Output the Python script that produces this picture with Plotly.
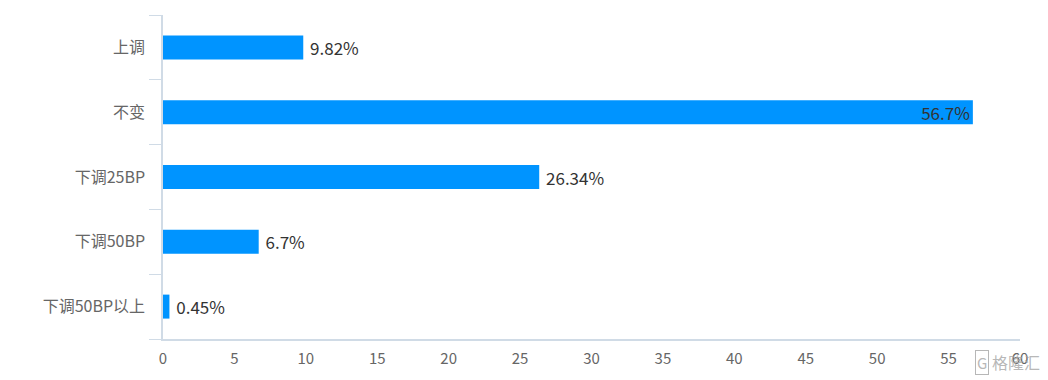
import plotly.graph_objects as go

categories = ["上调", "不变", "下调25BP", "下调50BP", "下调50BP以上"]
values = [9.82, 56.7, 26.34, 6.7, 0.45]
labels = ["9.82%", "56.7%", "26.34%", "6.7%", "0.45%"]
label_positions = ["outside", "inside", "outside", "outside", "outside"]
label_templates = ["\u00a0%{text}", "%{text}", "\u00a0%{text}", "\u00a0%{text}", "\u00a0%{text}"]
x_ticks = [0, 5, 10, 15, 20, 25, 30, 35, 40, 45, 50, 55, 60]

FONT = "Noto Sans CJK SC, Noto Sans, sans-serif"
AXIS = "#d0dbe6"
MARK = "rgba(165,165,165,0.8)"

fig = go.Figure(go.Bar(
    x=values, y=categories, orientation="h",
    marker=dict(color="#0094ff", line=dict(width=0)),
    text=labels, textposition=label_positions, texttemplate=label_templates,
    insidetextanchor="end", constraintext="none", cliponaxis=False,
    textfont=dict(family=FONT, size=17, color="#333333"),
    hoverinfo="skip",
))
fig.update_layout(
    width=1040, height=372,
    margin=dict(l=155, r=28, t=7, b=41),
    paper_bgcolor="white", plot_bgcolor="white",
    bargap=0.63, showlegend=False,
    font=dict(family=FONT, color="#666666", size=15),
    annotations=[
        dict(x=1, y=0, xref="paper", yref="paper", xanchor="right", yanchor="middle",
             xshift=22, yshift=-23, showarrow=False, text="格隆汇",
             font=dict(family=FONT, size=16, color=MARK)),
        dict(x=1, y=0, xref="paper", yref="paper", xanchor="center", yanchor="middle",
             xshift=-38, yshift=-23, showarrow=False, text="G",
             bordercolor=MARK, borderwidth=1, borderpad=1,
             font=dict(family=FONT, size=15, color=MARK)),
    ],
)
fig.update_xaxes(
    range=[0, 60], tickvals=x_ticks, showgrid=False, zeroline=False,
    showline=True, linecolor=AXIS, linewidth=1.5, ticks="", ticklabelstandoff=5,
    tickfont=dict(family=FONT, size=15, color="#666666"),
)
fig.update_yaxes(
    type="category", categoryorder="array", categoryarray=categories[::-1],
    showgrid=False, zeroline=False, showline=True, linecolor=AXIS, linewidth=1.5,
    ticks="outside", tickson="boundaries", ticklen=12, tickcolor=AXIS, tickwidth=1,
    ticklabelstandoff=13,
    tickfont=dict(family=FONT, size=16, color="#666666"),
)
fig.write_html("out.html")
